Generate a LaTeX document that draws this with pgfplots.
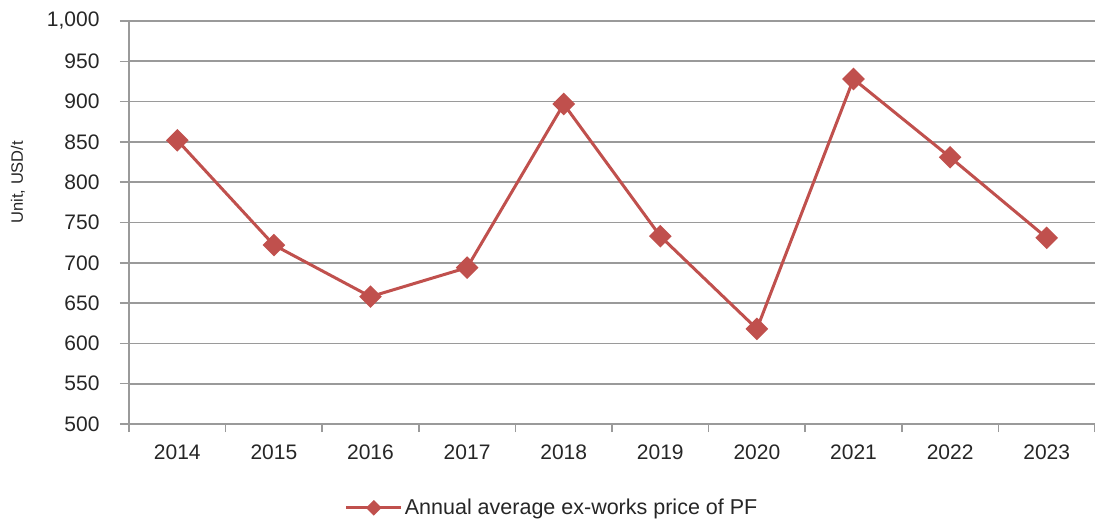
\documentclass[border=0pt]{standalone}
\usepackage{fontspec}
\setmainfont{Liberation Sans}
\usepackage{pgfplots}
\pgfplotsset{compat=1.18}
\definecolor{exred}{HTML}{C0504D}
\definecolor{gridgray}{HTML}{9A9A9A}
\begin{document}
\begin{tikzpicture}
\path[use as bounding box] (-129pt,-96pt) rectangle (966pt,424pt);
\begin{axis}[
  at={(0pt,0pt)}, anchor=south west,
  scale only axis, width=966pt, height=403pt,
  xmin=-0.5, xmax=9.5, ymin=500, ymax=1000,
  ytick={500,550,...,1000},
  xtick={0,...,9},
  xticklabels={2014,2015,2016,2017,2018,2019,2020,2021,2022,2023},
  minor xtick={-0.5,0.5,...,9.5},
  major x tick style={draw=none},
  minor x tick style={draw=gridgray, line width=1.5pt},
  ytick style={draw=gridgray, line width=1.5pt},
  tick align=outside,
  major tick length=9pt, minor tick length=8pt,
  axis x line*=bottom, axis y line*=left,
  axis line style={draw=gridgray, line width=1.8pt, -},
  ymajorgrids, grid style={draw=gridgray, line width=1.8pt},
  /pgf/number format/1000 sep={,},
  /pgf/number format/assume math mode=true,
  ticklabel style={font=\fontsize{21}{25}\selectfont, text=black!85},
  yticklabel style={xshift=-17pt},
  xticklabel style={yshift=-8pt},
  ylabel={Unit, USD/t},
  every axis y label/.style={at={(-111pt,0.60)}, rotate=90, anchor=center, font=\fontsize{16.5}{19}\selectfont, text=black!85},
  legend style={at={(0.438,-0.208)}, anchor=center, draw=none, font=\fontsize{21.5}{25}\selectfont, text=black!85, inner sep=0pt},
  legend cell align=left,
  legend image code/.code={\draw[#1, line width=3pt] (0pt,0pt) -- (55pt,0pt); \draw[#1, mark size=4pt, mark repeat=2, mark phase=2] plot coordinates {(0pt,0pt) (27.5pt,0pt) (55pt,0pt)};},
  clip=false,
]
\addplot[color=exred, line width=3pt, mark=square*, mark size=6.5pt, mark options={rotate=45, solid, fill=exred}]
  coordinates {(0,852) (1,722) (2,658) (3,694) (4,897) (5,733) (6,618) (7,928) (8,831) (9,731)};
\addlegendentry{Annual average ex-works price of PF}
\end{axis}
\end{tikzpicture}
\end{document}
